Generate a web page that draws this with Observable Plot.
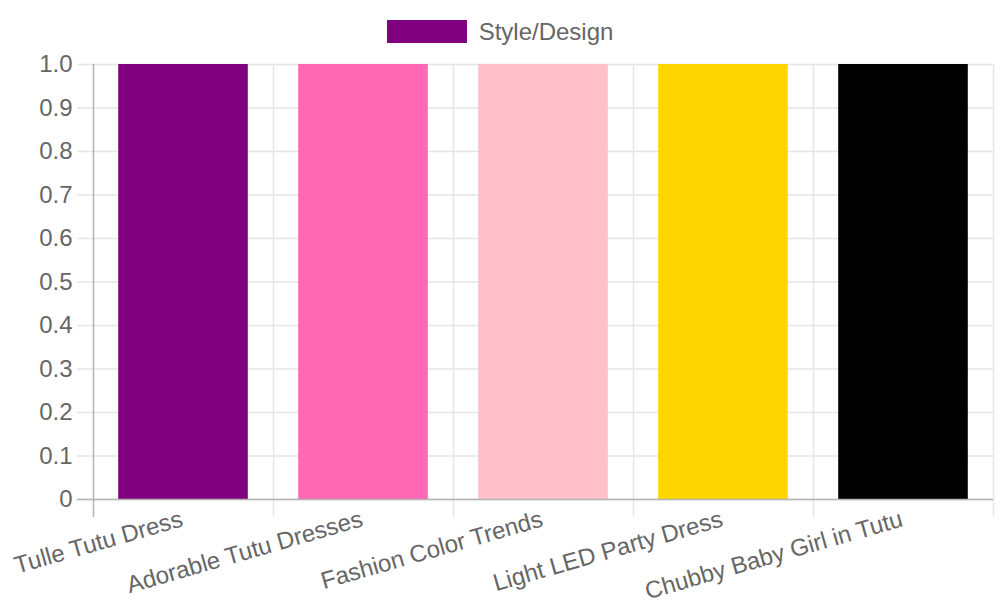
<!DOCTYPE html>
<html><head><meta charset="utf-8">
<script src="https://cdn.jsdelivr.net/npm/d3@7"></script>
<script src="https://cdn.jsdelivr.net/npm/@observablehq/plot@0.6"></script>
<style>
html,body{margin:0;padding:0;background:#fff;}
body{width:1000px;height:600px;overflow:hidden;font-family:"Liberation Sans",Arial,sans-serif;}
#legend{height:52px;display:flex;justify-content:center;align-items:flex-start;}
#legend .item{display:flex;align-items:center;margin-top:20px;height:23px;}
#legend .box{width:80px;height:23px;margin-right:12px;}
#legend .lab{font-size:24px;color:#666;line-height:23px;}
</style></head><body>
<div id="legend"></div>
<div id="chart"></div>
<script>
const categories = ["Tulle Tutu Dress","Adorable Tutu Dresses","Fashion Color Trends","Light LED Party Dress","Chubby Baby Girl in Tutu"];
const values = [1,1,1,1,1];
const colors = ["#800080","#FF69B4","#FFC0CB","#FFD700","#000000"];
const seriesLabel = "Style/Design";
const yTicks = [0,0.1,0.2,0.3,0.4,0.5,0.6,0.7,0.8,0.9,1.0];

const legend = document.getElementById("legend");
legend.innerHTML = `<div class="item"><div class="box" style="background:${colors[0]}"></div><div class="lab">${seriesLabel}</div></div>`;

const data = categories.map((c,i)=>({category:c, value:values[i]}));
const fmt = d => d === 0 ? "0" : d.toFixed(1);
const gridColor = "#e5e5e5";
const borderColor = "#b3b3b3";

const chart = Plot.plot({
  width:1000, height:548,
  marginTop:12, marginBottom:101, marginLeft:93, marginRight:7,
  style:{fontFamily:"Liberation Sans, Arial, sans-serif", fontSize:"24px", background:"#fff", overflow:"visible"},
  x:{domain:categories, padding:0, axis:null},
  y:{domain:[0,1], axis:null},
  color:{domain:categories, range:colors},
  marks:[
    Plot.ruleY(yTicks, {y:d=>d, stroke:gridColor, strokeWidth:1.5, insetLeft:-16}),
    Plot.ruleX(categories.slice(1), {x:d=>d, dx:-90, stroke:gridColor, strokeWidth:1.5, insetBottom:-18}),
    Plot.ruleX(categories.slice(-1), {x:d=>d, dx:90, stroke:gridColor, strokeWidth:1.5, insetBottom:-18}),
    Plot.barY(data, {x:"category", y:"value", fill:"category", insetLeft:25.2, insetRight:25.2}),
    Plot.ruleY([0], {stroke:borderColor, strokeWidth:1.5, insetLeft:-16}),
    Plot.ruleX(categories.slice(0,1), {x:d=>d, dx:-90, stroke:borderColor, strokeWidth:1.5, insetBottom:-18}),
    Plot.text(yTicks, {y:d=>d, text:fmt, frameAnchor:"left", dx:-21, textAnchor:"end", fill:"#666", fontSize:24}),
    Plot.text(categories, {x:d=>d, text:d=>d, frameAnchor:"bottom", rotate:-16, textAnchor:"end", lineAnchor:"top", dx:-4, dy:10, fill:"#666", fontSize:24})
  ]
});
document.getElementById("chart").appendChild(chart);
</script>
</body></html>
